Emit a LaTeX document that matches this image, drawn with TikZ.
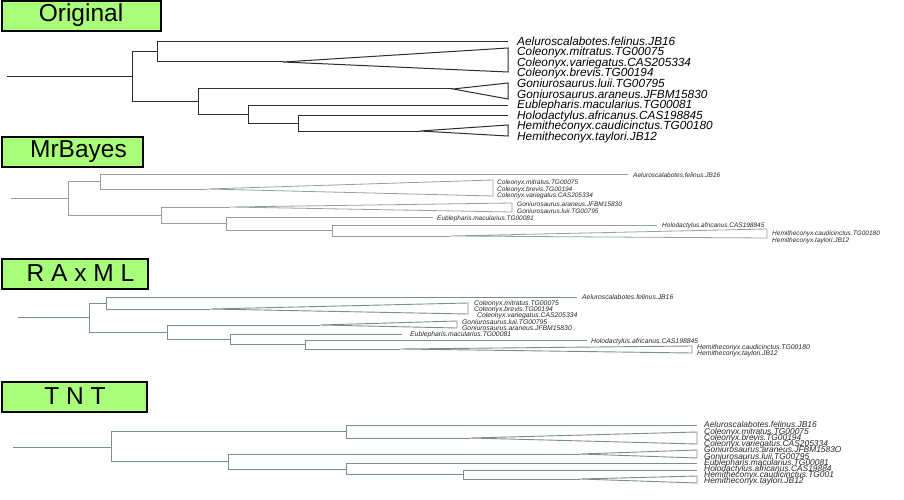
\documentclass[tikz,border=0pt]{standalone}
\usepackage{fontspec}
\setmainfont{Liberation Sans}
\definecolor{titlegreen}{RGB}{170,255,122}
\definecolor{origline}{RGB}{45,45,45}
\definecolor{treegray}{RGB}{125,140,140}
\definecolor{mbgray}{RGB}{150,160,160}
\definecolor{labgray}{RGB}{40,40,40}
\begin{document}
\begin{tikzpicture}[x=1pt,y=-1pt,
  titlebox/.style={draw=black, line width=1.6pt, fill=titlegreen, minimum height=30pt, inner sep=0pt},
  ttext/.style={font=\fontsize{24.5}{26}\selectfont, inner sep=0pt},
  br/.style={line width=1pt, draw=origline, line join=miter},
  brg/.style={line width=0.9pt, draw=treegray},
  brm/.style={line width=0.8pt, draw=mbgray},
  lab/.style={anchor=west, inner sep=0pt, text height=.72em, text depth=0pt, text=black},
  labO/.style={lab, font=\itshape\fontsize{11.8}{12}\selectfont},
  labM/.style={lab, text=labgray, font=\itshape\fontsize{6.5}{7}\selectfont},
  labR/.style={lab, text=labgray, font=\itshape\fontsize{6.8}{7}\selectfont},
  labT/.style={lab, text=labgray, font=\itshape\fontsize{8.4}{8}\selectfont}
]
\useasboundingbox (0,0) rectangle (904,500);
\fill[white] (0,0) rectangle (904,500);

% ---------------- titles ----------------
\node[titlebox, minimum width=159pt] (tb1) at (81.5,16) {};
\node[ttext] (tt1) at (81,15.5) {Original};
\node[titlebox, minimum width=141pt] (tb2) at (72.5,152) {};
\node[ttext] (tt2) at (78.5,151.5) {MrBayes};
\node[titlebox, minimum width=146pt] (tb3) at (75,274) {};
\node[ttext] (tt3) at (80.5,273.5) {R A x M L};
\node[titlebox, minimum width=145pt] (tb4) at (74.5,397) {};
\node[ttext] (tt4) at (75,396.5) {T N T};

% ---------------- Original ----------------
\coordinate (o0) at (7,77);
\coordinate (on1) at (132,77);
\coordinate (on2) at (157,51.5);
\coordinate (on3) at (198,102);
\coordinate (on4) at (248,115);
\coordinate (on5) at (298,123.5);
\coordinate (oA) at (508,41.5);
\coordinate (oCa) at (283,62);
\coordinate (oGa) at (453,89);
\coordinate (oE) at (508,106);
\coordinate (oH) at (508,116);
\coordinate (oHa) at (420,131);
\draw[br] (o0) -- (on1);
\draw[br] (on1) |- (on2);
\draw[br] (on1) |- (on3);
\draw[br] (on2) |- (oA);
\draw[br] (on2) |- (oCa);
\draw[br] (oCa) -- (508,48) -- (508,72) -- cycle;
\draw[br] (on3) |- (oGa);
\draw[br] (oGa) -- (508,83) -- (508,99) -- cycle;
\draw[br] (on3) |- (on4);
\draw[br] (on4) |- (oE);
\draw[br] (on4) |- (on5);
\draw[br] (on5) |- (oH);
\draw[br] (on5) |- (oHa);
\draw[br] (oHa) -- (508,125) -- (508,136) -- cycle;
\node[labO] (ol1) at (517,41.5) {Aeluroscalabotes.felinus.JB16};
\node[labO] (ol2) at (517,52.1) {Coleonyx.mitratus.TG00075};
\node[labO] (ol3) at (517,62.7) {Coleonyx.variegatus.CAS205334};
\node[labO] (ol4) at (517,73.3) {Coleonyx.brevis.TG00194};
\node[labO] (ol5) at (517,83.9) {Goniurosaurus.luii.TG00795};
\node[labO] (ol6) at (517,94.5) {Goniurosaurus.araneus.JFBM15830};
\node[labO] (ol7) at (517,105.1) {Eublepharis.macularius.TG00081};
\node[labO] (ol8) at (517,115.7) {Holodactylus.africanus.CAS198845};
\node[labO] (ol9) at (517,126.3) {Hemitheconyx.caudicinctus.TG00180};
\node[labO] (ol10) at (517,136.9) {Hemitheconyx.taylori.JB12};

% ---------------- MrBayes ----------------
\coordinate (m0) at (11,198.5);
\coordinate (mn1) at (68,198.5);
\coordinate (mn2) at (100,181.5);
\coordinate (mn3) at (161,215.5);
\coordinate (mn4) at (226,223.5);
\coordinate (mn5) at (332,230.5);
\coordinate (mA) at (628,174);
\coordinate (mCa) at (207,189);
\coordinate (mGa) at (230,207);
\coordinate (mE) at (433,217);
\coordinate (mH) at (657,225);
\coordinate (mHa) at (450,236);
\draw[brm, line width=1.4pt] (m0) -- (mn1);
\draw[brm] (mn1) |- (mn2);
\draw[brm] (mn1) |- (mn3);
\draw[brm] (mn2) |- (mA);
\draw[brm] (mn2) |- (mCa);
\draw[brm] (mCa) -- (493,180) -- (493,196) -- cycle;
\draw[brm] (mn3) |- (mGa);
\draw[brm] (mGa) -- (512,203) -- (512,212) -- cycle;
\draw[brm] (mn3) |- (mn4);
\draw[brm] (mn4) |- (mE);
\draw[brm] (mn4) |- (mn5);
\draw[brm] (mn5) |- (mH);
\draw[brm] (mn5) |- (mHa);
\draw[brm] (mHa) -- (767,229) -- (767,238) -- cycle;
\node[labM] (ml1) at (633,174) {Aeluroscalabotes.felinus.JB16};
\node[labM] (ml2) at (497,181) {Coleonyx.mitratus.TG00075};
\node[labM] (ml3) at (497,187.5) {Coleonyx.brevis.TG00194};
\node[labM] (ml4) at (497,194) {Coleonyx.variegatus.CAS205334};
\node[labM] (ml5) at (517,202.5) {Goniurosaurus.araneus.JFBM15830};
\node[labM] (ml6) at (517,209.5) {Goniurosaurus.luii.TG00795};
\node[labM] (ml7) at (437,217) {Eublepharis.macularius.TG00081};
\node[labM] (ml8) at (662,224) {Holodactylus.africanus.CAS198845};
\node[labM] (ml9) at (772,232) {Hemitheconyx.caudicinctus.TG00180};
\node[labM] (ml10) at (772,239) {Hemitheconyx.taylori.JB12};

% ---------------- RAxML ----------------
\coordinate (r0) at (18,317.5);
\coordinate (rn1) at (89,317.5);
\coordinate (rn2) at (106,303);
\coordinate (rn3) at (167,332);
\coordinate (rn4) at (230,339.5);
\coordinate (rn5) at (305,344.5);
\coordinate (rA) at (577,297);
\coordinate (rCa) at (210,309);
\coordinate (rGa) at (320,325);
\coordinate (rE) at (402,334);
\coordinate (rH) at (587,340);
\coordinate (rHa) at (400,349);
\draw[brg] (r0) -- (rn1);
\draw[brg] (rn1) |- (rn2);
\draw[brg] (rn1) |- (rn3);
\draw[brg] (rn2) |- (rA);
\draw[brg] (rn2) |- (rCa);
\draw[brg] (rCa) -- (468,303) -- (468,314) -- cycle;
\draw[brg] (rn3) |- (rGa);
\draw[brg] (rGa) -- (457,321) -- (457,328) -- cycle;
\draw[brg] (rn3) |- (rn4);
\draw[brg] (rn4) |- (rE);
\draw[brg] (rn4) |- (rn5);
\draw[brg] (rn5) |- (rH);
\draw[brg] (rn5) |- (rHa);
\draw[brg] (rHa) -- (692,346) -- (692,353) -- cycle;
\node[labR] (rl1) at (582,296) {Aeluroscalabotes.felinus.JB16};
\node[labR] (rl2) at (474,302) {Coleonyx.mitratus.TG00075};
\node[labR] (rl3) at (474,308) {Coleonyx.brevis.TG00194};
\node[labR] (rl4) at (477,314) {Coleonyx.variegatus.CAS205334};
\node[labR] (rl5) at (462,321) {Goniurosaurus.luii.TG00795};
\node[labR] (rl6) at (462,327) {Goniurosaurus.araneus.JFBM15830};
\node[labR] (rl7) at (410,333) {Eublepharis.macularius.TG00081};
\node[labR] (rl8) at (591,340) {Holodactylus.africanus.CAS198845};
\node[labR] (rl9) at (697,346) {Hemitheconyx.caudicinctus.TG00180};
\node[labR] (rl10) at (697,352) {Hemitheconyx.taylori.JB12};

% ---------------- TNT ----------------
\coordinate (t0) at (13,447);
\coordinate (tn1) at (111,447);
\coordinate (tn2) at (346,431.5);
\coordinate (tn3) at (228,461.5);
\coordinate (tn4) at (346,469);
\coordinate (tn5) at (463,474.5);
\coordinate (tA) at (697,425);
\coordinate (tCa) at (470,438);
\coordinate (tGa) at (580,454);
\coordinate (tE) at (697,463);
\coordinate (tH) at (697,470);
\coordinate (tHa) at (580,479);
\draw[brg] (t0) -- (tn1);
\draw[brg] (tn1) |- (tn2);
\draw[brg] (tn1) |- (tn3);
\draw[brg] (tn2) |- (tA);
\draw[brg] (tn2) |- (tCa);
\draw[brg] (tCa) -- (697,432) -- (697,444) -- cycle;
\draw[brg] (tn3) |- (tGa);
\draw[brg] (tGa) -- (697,450) -- (697,458) -- cycle;
\draw[brg] (tn3) |- (tn4);
\draw[brg] (tn4) |- (tE);
\draw[brg] (tn4) |- (tn5);
\draw[brg] (tn5) |- (tH);
\draw[brg] (tn5) |- (tHa);
\draw[brg] (tHa) -- (697,476) -- (697,483) -- cycle;
\node[labT] (tl1) at (704,424) {Aeluroscalabotes.felinus.JB16};
\node[labT] (tl2) at (704,430.5) {Coleonyx.mitratus.TG00075};
\node[labT] (tl3) at (704,436.8) {Coleonyx.brevis.TG00194};
\node[labT] (tl4) at (704,443) {Coleonyx.variegatus.CAS205334};
\node[labT] (tl5) at (704,449.2) {Goniurosaurus.araneus.JFBM1583O};
\node[labT] (tl6) at (704,455.4) {Goniurosaurus.luii.TG00795};
\node[labT] (tl7) at (704,461.6) {Eublepharis.macularius.TG00081};
\node[labT] (tl8) at (704,467.8) {Holodactylus.africanus.CAS19884};
\node[labT] (tl9) at (704,474) {Hemitheconyx.caudicinctus.TG001};
\node[labT] (tl10) at (704,480.2) {Hemitheconyx.taylori.JB12};
\end{tikzpicture}
\end{document}
